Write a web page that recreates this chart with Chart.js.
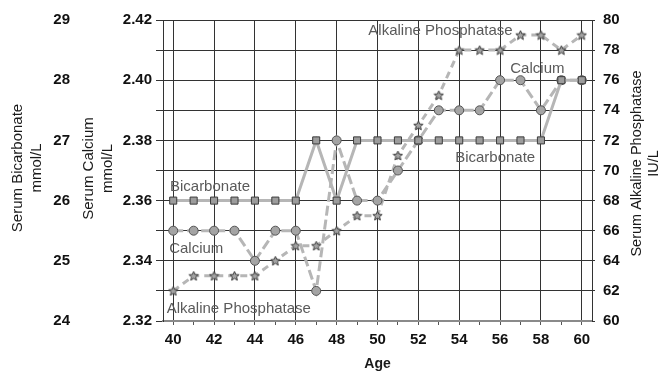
<!DOCTYPE html>
<html>
<head>
<meta charset="utf-8">
<script src="https://cdn.jsdelivr.net/npm/chart.js@4/dist/chart.umd.min.js"></script>
<style>
  html, body { margin: 0; padding: 0; background: #ffffff; }
  #wrap { width: 662px; height: 372px; position: relative; }
</style>
</head>
<body>
<div id="wrap"><canvas id="c" width="662" height="372"></canvas></div>
<script>
// Age in years
const ages = [40, 41, 42, 43, 44, 45, 46, 47, 48, 49, 50, 51, 52, 53, 54, 55, 56, 57, 58, 59, 60];
// Serum bicarbonate, mmol/L
const bicarbonate = [26, 26, 26, 26, 26, 26, 26, 27, 26, 27, 27, 27, 27, 27, 27, 27, 27, 27, 27, 28, 28];
// Serum calcium, mmol/L
const calcium = [2.35, 2.35, 2.35, 2.35, 2.34, 2.35, 2.35, 2.33, 2.38, 2.36, 2.36, 2.37, 2.38, 2.39, 2.39, 2.39, 2.40, 2.40, 2.39, 2.40, 2.40];
// Serum alkaline phosphatase, IU/L
const alkalinePhosphatase = [62, 63, 63, 63, 63, 64, 65, 65, 66, 67, 67, 71, 73, 75, 78, 78, 78, 79, 79, 78, 79];

const FONT = "'Liberation Sans', Arial, Helvetica, sans-serif";
const LINE = '#b6b6b6';
const GRID = '#333333';

// small filled five-pointed star used as the point marker
function makeStar(size) {
  const cv = document.createElement('canvas');
  cv.width = size; cv.height = size;
  const g = cv.getContext('2d');
  const cx = size / 2, cy = size / 2 + 0.4, ro = size / 2 - 0.6, ri = ro * 0.45;
  g.beginPath();
  for (let i = 0; i < 10; i++) {
    const r = i % 2 === 0 ? ro : ri;
    const a = -Math.PI / 2 + i * Math.PI / 5;
    const px = cx + r * Math.cos(a), py = cy + r * Math.sin(a);
    if (i === 0) g.moveTo(px, py); else g.lineTo(px, py);
  }
  g.closePath();
  g.fillStyle = '#a4a4a4';
  g.fill();
  g.lineWidth = 1;
  g.strokeStyle = '#3c3c3c';
  g.stroke();
  return cv;
}
const starMarker = makeStar(11);

// series names written inside the plot, placed in (age, calcium) units
const seriesNotes = [
  { text: 'Bicarbonate', age: 39.84, ca: 2.3645 },
  { text: 'Calcium', age: 39.8, ca: 2.3441 },
  { text: 'Alkaline Phosphatase', age: 39.68, ca: 2.3241 },
  { text: 'Alkaline Phosphatase', age: 49.55, ca: 2.4163 },
  { text: 'Calcium', age: 56.5, ca: 2.4037 },
  { text: 'Bicarbonate', age: 53.8, ca: 2.3743 }
];

const notesAndTitles = {
  id: 'notesAndTitles',
  afterDatasetsDraw(chart) {
    const ctx = chart.ctx;
    const xs = chart.scales.x, yc = chart.scales.yCa;
    ctx.save();
    ctx.font = '15px ' + FONT;
    ctx.fillStyle = '#5a5a5a';
    ctx.textAlign = 'left';
    ctx.textBaseline = 'middle';
    seriesNotes.forEach(n => {
      ctx.fillText(n.text, xs.getPixelForValue(n.age - ages[0]), yc.getPixelForValue(n.ca));
    });
    ctx.restore();
  },
  afterDraw(chart) {
    const ctx = chart.ctx;
    const area = chart.chartArea;
    const midY = (area.top + area.bottom) / 2;
    ctx.save();
    ctx.fillStyle = '#1a1a1a';
    ctx.textAlign = 'center';
    ctx.textBaseline = 'middle';
    const vtitle = (lines, xs, cy, font) => {
      ctx.font = font;
      lines.forEach((t, i) => {
        ctx.save();
        ctx.translate(xs[i], cy);
        ctx.rotate(-Math.PI / 2);
        ctx.fillText(t, 0, 0);
        ctx.restore();
      });
    };
    vtitle(['Serum Bicarbonate', 'mmol/L'], [18, 37], midY - 2.5, '15px ' + FONT);
    vtitle(['Serum Calcium', 'mmol/L'], [89, 108], midY - 2, '15px ' + FONT);
    vtitle(['Serum Alkaline Phosphatase', 'IU/L'], [637, 654], midY - 7, '14.5px ' + FONT);
    ctx.font = 'bold 14px ' + FONT;
    ctx.fillText('Age', (area.left + area.right) / 2, 364);
    ctx.restore();
  }
};

new Chart(document.getElementById('c'), {
  type: 'line',
  data: {
    labels: ages.map(String),
    datasets: [
      {
        label: 'Bicarbonate',
        data: bicarbonate,
        yAxisID: 'yBi',
        borderColor: LINE,
        borderWidth: 3,
        pointStyle: 'rect',
        pointRadius: 5,
        pointBackgroundColor: '#9c9c9c',
        pointBorderColor: '#3c3c3c',
        pointBorderWidth: 1,
        tension: 0
      },
      {
        label: 'Calcium',
        data: calcium,
        yAxisID: 'yCa',
        borderColor: LINE,
        borderWidth: 3,
        borderDash: [10, 4],
        pointStyle: 'circle',
        pointRadius: 4.5,
        pointBackgroundColor: '#a4a4a4',
        pointBorderColor: '#555555',
        pointBorderWidth: 1,
        tension: 0
      },
      {
        label: 'Alkaline Phosphatase',
        data: alkalinePhosphatase,
        yAxisID: 'yAlp',
        borderColor: LINE,
        borderWidth: 3,
        borderDash: [7, 5],
        pointStyle: starMarker,
        pointRadius: 5,
        tension: 0
      }
    ]
  },
  options: {
    responsive: false,
    animation: false,
    events: [],
    layout: { padding: { top: 20, left: 0, right: 0, bottom: 0 } },
    plugins: { legend: { display: false }, tooltip: { enabled: false } },
    scales: {
      x: {
        type: 'category',
        offset: true,
        afterFit: s => { s.height = 51; },
        grid: {
          color: c => (c.index % 2 === 0 ? GRID : 'rgba(0,0,0,0)'),
          lineWidth: 1,
          drawTicks: true,
          tickLength: 4,
          tickColor: '#555555'
        },
        border: { display: true, color: '#8a8a8a', width: 2 },
        ticks: {
          autoSkip: false,
          maxRotation: 0,
          padding: 6,
          color: '#111111',
          font: { family: FONT, size: 15, weight: 'bold' },
          callback: function (v, i) { return i % 2 === 0 ? this.getLabelForValue(v) : ''; }
        }
      },
      yCa: {
        position: 'left',
        weight: 0,
        min: 2.32,
        max: 2.42,
        afterFit: s => { s.width = 85; },
        grid: { color: GRID, lineWidth: 1, drawTicks: true, tickLength: 7, tickColor: GRID },
        border: { display: true, color: GRID, width: 1 },
        ticks: {
          stepSize: 0.01,
          autoSkip: false,
          padding: 4,
          color: '#111111',
          font: { family: FONT, size: 15, weight: 'bold' },
          callback: (v, i) => (i % 2 === 0 ? Number(v).toFixed(2) : '')
        }
      },
      yBi: {
        position: 'left',
        weight: 1,
        min: 24,
        max: 29,
        afterFit: s => { s.width = 78; },
        grid: { display: false, drawOnChartArea: false, drawTicks: false },
        border: { display: false },
        ticks: {
          stepSize: 1,
          autoSkip: false,
          padding: 8,
          color: '#111111',
          font: { family: FONT, size: 15, weight: 'bold' }
        }
      },
      yAlp: {
        position: 'right',
        min: 60,
        max: 80,
        afterFit: s => { s.width = 70; },
        grid: { drawOnChartArea: false, drawTicks: true, tickLength: 3, color: GRID },
        border: { display: true, color: GRID, width: 1 },
        ticks: {
          stepSize: 2,
          autoSkip: false,
          padding: 8,
          color: '#111111',
          font: { family: FONT, size: 15, weight: 'bold' }
        }
      }
    }
  },
  plugins: [notesAndTitles]
});
</script>
</body>
</html>
